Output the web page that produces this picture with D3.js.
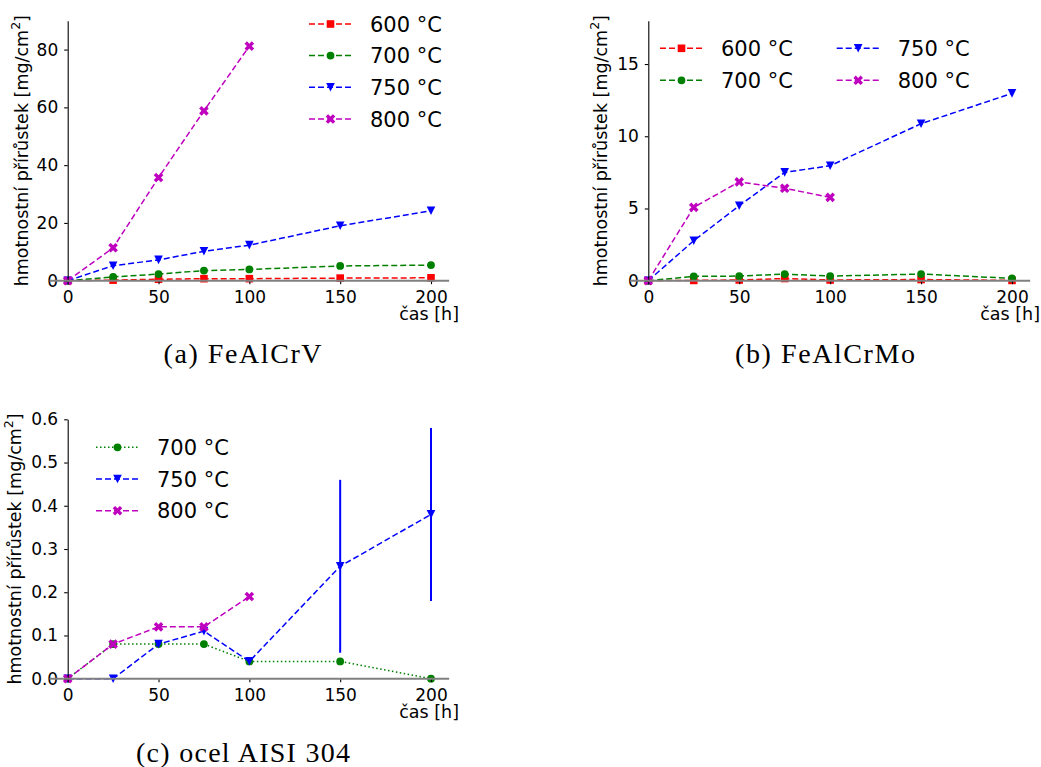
<!DOCTYPE html>
<html>
<head>
<meta charset="utf-8">
<script src="https://cdn.jsdelivr.net/npm/d3@7"></script>
<style>
  html, body { margin: 0; padding: 0; background: #fff; }
  svg { display: block; }
</style>
</head>
<body>
<svg id="fig" width="1041" height="767"></svg>
<script>
// ---- data: mass gain [mg/cm^2] vs. exposure time [h] ----
const hours = [0, 25, 50, 75, 100, 150, 200];
const hoursShort = [0, 25, 50, 75, 100];

// FeAlCrV
const fealcrv600 = [0, 0.2, 0.5, 0.7, 0.7, 0.9, 1.0];
const fealcrv700 = [0, 1.3, 2.3, 3.5, 3.9, 5.1, 5.4];
const fealcrv750 = [0, 5.2, 7.2, 10.2, 12.3, 19.0, 24.2];
const fealcrv800 = [0, 11.4, 35.7, 58.8, 81.2];

// FeAlCrMo
const fealcrmo600 = [0, 0.02, 0.05, 0.15, 0.05, 0.08, 0.02];
const fealcrmo700 = [0, 0.30, 0.32, 0.46, 0.32, 0.46, 0.16];
const fealcrmo750 = [0, 2.77, 5.19, 7.50, 7.96, 10.87, 12.97];
const fealcrmo800 = [0, 5.08, 6.84, 6.40, 5.77];

// AISI 304 steel
const aisi700 = [0, 0.08, 0.08, 0.08, 0.04, 0.04, 0.0];
const aisi750 = [0, 0.0, 0.08, 0.11, 0.04, 0.26, 0.38];
const aisi750err = [0, 0, 0, 0, 0, 0.20, 0.20];
const aisi800 = [0, 0.08, 0.12, 0.12, 0.19];

const ticksA = [0, 20, 40, 60, 80];
const ticksB = [0, 5, 10, 15];
const ticksC = [0, 0.1, 0.2, 0.3, 0.4, 0.5, 0.6];
const ticksX = [0, 50, 100, 150, 200];

const labels = {600: "600 °C", 700: "700 °C", 750: "750 °C", 800: "800 °C"};
const yLabelText = "hmotnostní přírůstek [mg/cm";
const xLabelText = "čas [h]";

// ---- styles ----
const style = {
  600: {color: "#ff0000", marker: "square", dash: "6,3"},
  700: {color: "#008000", marker: "circle", dash: "6,3"},
  750: {color: "#0000ff", marker: "tri", dash: "6,3"},
  800: {color: "#bf00bf", marker: "x", dash: "6,3"}
};

function markerPath(kind) {
  const p = d3.path();
  if (kind === "square") {
    const s = 3.8; p.rect(-s, -s, 2 * s, 2 * s);
  } else if (kind === "circle") {
    p.arc(0, 0, 3.9, 0, 2 * Math.PI);
  } else if (kind === "tri") {
    const w = 4.3, h = 4.3;
    p.moveTo(0, h); p.lineTo(-w, -h); p.lineTo(w, -h); p.closePath();
  } else if (kind === "x") {
    // filled "X": a plus rotated by 45 degrees
    const u = 1.7;
    const pts = [[-1,-3],[1,-3],[1,-1],[3,-1],[3,1],[1,1],[1,3],[-1,3],[-1,1],[-3,1],[-3,-1],[-1,-1]];
    const c = Math.SQRT1_2;
    pts.forEach((q, i) => {
      const x = (q[0] * c - q[1] * c) * u, y = (q[0] * c + q[1] * c) * u;
      if (i === 0) p.moveTo(x, y); else p.lineTo(x, y);
    });
    p.closePath();
  }
  return p.toString();
}

const svg = d3.select("#fig");
const FONT = "'DejaVu Sans', sans-serif";

function panel(cfg) {
  const x = d3.scaleLinear().domain([0, 200]).range(cfg.xr);
  const y = d3.scaleLinear().domain(cfg.yd).range(cfg.yr);
  const g = svg.append("g");

  // series
  cfg.series.forEach(s => {
    const st = Object.assign({}, style[s.t], s.override || {});
    const pts = s.xs.map((h, i) => ({h, v: s.vs[i], e: s.err ? s.err[i] : 0}));
    const line = d3.line().x(d => x(d.h)).y(d => y(d.v));
    g.append("path").attr("d", line(pts))
      .attr("fill", "none").attr("stroke", st.color)
      .attr("stroke-width", 1.5).attr("stroke-dasharray", st.dash);
    if (s.err) {
      g.selectAll(null).data(pts.filter(d => d.e > 0)).enter().append("line")
        .attr("x1", d => x(d.h)).attr("x2", d => x(d.h))
        .attr("y1", d => y(d.v - d.e)).attr("y2", d => y(d.v + d.e))
        .attr("stroke", st.color).attr("stroke-width", 2);
    }
    g.selectAll(null).data(pts).enter().append("path")
      .attr("d", markerPath(st.marker))
      .attr("transform", d => `translate(${x(d.h)},${y(d.v)})`)
      .attr("fill", st.color);
  });

  // y axis (left spine through x = 0)
  const ya = g.append("g").attr("transform", `translate(${x(0)},0)`)
    .call(d3.axisLeft(y).tickValues(cfg.yticks).tickFormat(cfg.yfmt)
      .tickSize(3.5).tickSizeOuter(0).tickPadding(6));
  ya.select(".domain").attr("stroke", "#000").attr("stroke-width", 1.1);
  ya.selectAll(".tick line").attr("stroke", "#000").attr("stroke-width", 1.1);
  ya.selectAll("text").attr("font-family", FONT).attr("font-size", 17).attr("fill", "#000");

  // x axis ticks below the zero line
  const xa = g.append("g").attr("transform", `translate(0,${y(0)})`)
    .call(d3.axisBottom(x).tickValues(ticksX).tickSize(3.5).tickSizeOuter(0).tickPadding(6.5));
  xa.select(".domain").remove();
  xa.selectAll(".tick line").attr("stroke", "#000").attr("stroke-width", 1.1);
  xa.selectAll("text").attr("font-family", FONT).attr("font-size", 17).attr("fill", "#000");

  // grey zero line spanning the full x range
  g.append("line")
    .attr("x1", x(-10)).attr("x2", x(210)).attr("y1", y(0)).attr("y2", y(0))
    .attr("stroke", "#808080").attr("stroke-width", 2);

  // axis labels
  const yl = g.append("text")
    .attr("transform", `translate(${x(0) + cfg.ylabDx},${(cfg.yr[0] + cfg.yr[1]) / 2}) rotate(-90)`)
    .attr("text-anchor", "middle").attr("dominant-baseline", "central")
    .attr("font-family", FONT).attr("font-size", 17.5).attr("fill", "#000");
  yl.append("tspan").text(yLabelText);
  yl.append("tspan").attr("font-size", 12.5).attr("dy", -7).text("2");
  yl.append("tspan").attr("dy", 7).text("]");

  g.append("text").attr("x", x(200) + 28).attr("y", y(0) + 39.5)
    .attr("text-anchor", "end").attr("font-family", FONT).attr("font-size", 17.5)
    .attr("fill", "#000").text(xLabelText);

  // legend
  cfg.legend.forEach(L => {
    const st = Object.assign({}, style[L.t], L.override || {});
    const lg = g.append("g");
    lg.append("line").attr("x1", L.x).attr("x2", L.x + 43).attr("y1", L.y).attr("y2", L.y)
      .attr("stroke", st.color).attr("stroke-width", 1.5).attr("stroke-dasharray", st.dash);
    lg.append("path").attr("d", markerPath(st.marker))
      .attr("transform", `translate(${L.x + 21.5},${L.y})`).attr("fill", st.color);
    lg.append("text").attr("x", L.x + 61).attr("y", L.y + 7.7)
      .attr("font-family", FONT).attr("font-size", 21).attr("fill", "#000")
      .text(labels[L.t]);
  });

  // caption
  svg.append("text").attr("x", cfg.cap.x).attr("y", cfg.cap.y)
    .attr("text-anchor", "middle").attr("font-family", "'Liberation Serif', serif")
    .attr("font-size", 28).attr("textLength", cfg.cap.w).attr("lengthAdjust", "spacing")
    .attr("fill", "#000").text(cfg.cap.text);
}

const intFmt = d3.format("d");
const decFmt = d3.format(".1f");

panel({
  xr: [67.7, 431], yd: [0, 90], yr: [280.7, 20.7], yticks: ticksA, yfmt: intFmt, ylabDx: -46,
  series: [
    {t: 600, xs: hours, vs: fealcrv600},
    {t: 700, xs: hours, vs: fealcrv700},
    {t: 750, xs: hours, vs: fealcrv750},
    {t: 800, xs: hoursShort, vs: fealcrv800}
  ],
  legend: [
    {t: 600, x: 309, y: 24}, {t: 700, x: 309, y: 55.6},
    {t: 750, x: 309, y: 87.3}, {t: 800, x: 309, y: 119}
  ],
  cap: {text: "(a) FeAlCrV", x: 242.5, y: 362.5, w: 158}
});

panel({
  xr: [648.3, 1012], yd: [0, 18], yr: [280.7, 20.7], yticks: ticksB, yfmt: intFmt, ylabDx: -47,
  series: [
    {t: 600, xs: hours, vs: fealcrmo600},
    {t: 700, xs: hours, vs: fealcrmo700},
    {t: 750, xs: hours, vs: fealcrmo750},
    {t: 800, xs: hoursShort, vs: fealcrmo800}
  ],
  legend: [
    {t: 600, x: 660, y: 48.3}, {t: 700, x: 660, y: 80.3},
    {t: 750, x: 836.7, y: 48.3}, {t: 800, x: 836.7, y: 80.3}
  ],
  cap: {text: "(b) FeAlCrMo", x: 825, y: 362.5, w: 180}
});

panel({
  xr: [67.7, 431], yd: [0, 0.6], yr: [678.7, 419.3], yticks: ticksC, yfmt: decFmt, ylabDx: -53,
  series: [
    {t: 700, xs: hours, vs: aisi700, override: {dash: "1.5,2.5"}},
    {t: 750, xs: hours, vs: aisi750, err: aisi750err},
    {t: 800, xs: hoursShort, vs: aisi800}
  ],
  legend: [
    {t: 700, x: 96, y: 447.3, override: {dash: "1.5,2.5"}},
    {t: 750, x: 96, y: 479}, {t: 800, x: 96, y: 510.7}
  ],
  cap: {text: "(c) ocel AISI 304", x: 243, y: 761.5, w: 214}
});
</script>
</body>
</html>
